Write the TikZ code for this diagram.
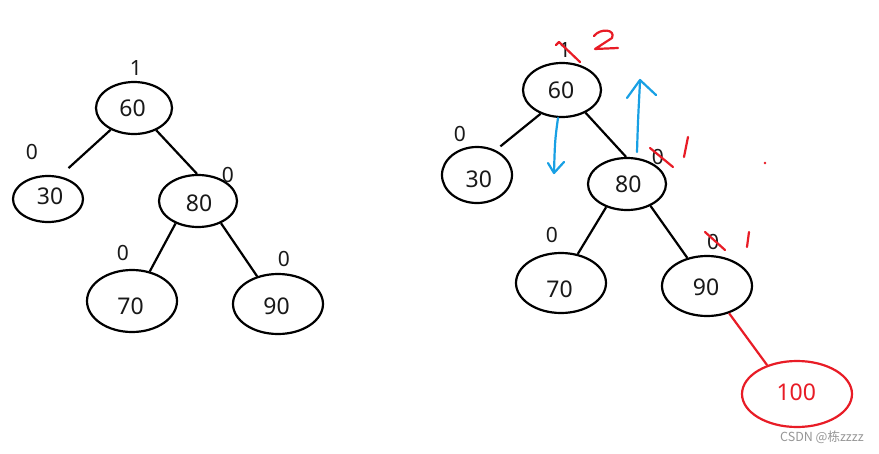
\documentclass[tikz,border=0pt]{standalone}
\usepackage{fontspec}
\setmainfont{Noto Sans}
\newfontfamily\cjkwm{Noto Sans CJK SC}
\usetikzlibrary{shapes.geometric,arrows.meta}
\definecolor{inkred}{RGB}{232,28,38}
\definecolor{inkblue}{RGB}{24,160,228}
\definecolor{wmgray}{RGB}{150,150,150}
% shift a node's text by (dx,dy) inside its shape: dx>0 right, dy>0 down
\newcommand{\txtshift}[3]{\hspace*{\dimexpr 2\dimexpr #1\relax\relax}\raisebox{-#2}[\height][\depth]{#3}}
\newcommand{\txtshiftl}[3]{\raisebox{-#2}[\height][\depth]{#3}\hspace*{\dimexpr 2\dimexpr #1\relax\relax}}
\tikzset{
  tnode/.style={draw=black, line width=2.2pt, ellipse, inner sep=0pt, text=black!90, font=\fontsize{23}{25}\selectfont},
  rnode/.style={tnode, draw=inkred, text=inkred},
  bal/.style={inner sep=0pt, text=black!90, font=\fontsize{21}{23}\selectfont},
  edge/.style={draw=black, line width=2.2pt},
  redge/.style={draw=inkred, line width=2.2pt},
  redmark/.style={draw=inkred, line width=2.2pt, line cap=round, line join=round},
  bluearrow/.style={draw=inkblue, line width=2.2pt, line cap=round}
}
\begin{document}
\begin{tikzpicture}[x=1pt,y=-1pt]
\fill[white] (0,0) rectangle (879,453);
\useasboundingbox (0,0) rectangle (879,453);

% ---------- left tree ----------
\node[tnode, minimum width=76pt, minimum height=52pt] (l60) at (134,108) {\txtshiftl{1.5pt}{0pt}{60}};
\node[tnode, minimum width=70pt, minimum height=46pt] (l30) at (48,199) {\txtshift{2pt}{-3pt}{30}};
\node[tnode, minimum width=78pt, minimum height=52pt] (l80) at (198,201) {\txtshift{1pt}{2pt}{80}};
\node[tnode, minimum width=90pt, minimum height=62pt] (l70) at (132,301) {\txtshiftl{1.5pt}{5.5pt}{70}};
\node[tnode, minimum width=90pt, minimum height=60pt] (l90) at (278,304) {\txtshiftl{1.5pt}{2.5pt}{90}};

\draw[edge, shorten >=12pt] (l60.-137) -- (l30.63);
\draw[edge] (l60.-45) -- (l80.92);
\draw[edge] (l80.-135) -- (l70.59);
\draw[edge] (l80.-44) -- (l90.127);

\node[bal] (bl60) at (136,68) {1};
\node[bal] (bl30) at (32,152) {0};
\node[bal] (bl80) at (228,175) {0};
\node[bal] (bl70) at (123,253) {0};
\node[bal] (bl90) at (284,259) {0};

% ---------- right tree ----------
\node[tnode, minimum width=78pt, minimum height=54pt] (r60) at (562,90) {\txtshiftl{1pt}{0pt}{60}};
\node[tnode, minimum width=70pt, minimum height=56pt] (r30) at (477,175) {\txtshift{1.75pt}{4pt}{30}};
\node[tnode, minimum width=78pt, minimum height=52pt] (r80) at (627,184) {\txtshift{1.25pt}{0.5pt}{80}};
\node[tnode, minimum width=90pt, minimum height=60pt] (r70) at (561,283) {\txtshiftl{1.5pt}{6pt}{70}};
\node[tnode, minimum width=90pt, minimum height=60pt] (r90) at (707,286) {\txtshiftl{1pt}{1pt}{90}};
\node[rnode, minimum width=110pt, minimum height=66pt] (r100) at (797,394) {\txtshiftl{0.75pt}{-1.5pt}{100}};

\draw[edge, shorten >=6pt] (r60.-132) -- (r30.53);
\draw[edge] (r60.-44) -- (r80.92);
\draw[edge] (r80.-132) -- (r70.60);
\draw[edge] (r80.-43) -- (r90.125);
\draw[redge] (r90.-51) -- (r100.136);

\node[bal] (br60) at (565,50) {1};
\node[bal] (br30) at (460,134) {0};
\node[bal] (br80) at (658,157) {0};
\node[bal] (br70) at (552,235) {0};
\node[bal] (br90) at (713,242) {0};

% red corrections
\draw[redmark] (556,45) -- (559,42) -- (580,62);
\draw[redmark] (594,36) .. controls (600,28) and (616,29) .. (612,38) -- (595,49) -- (618,48);
\draw[redmark] (650,148) -- (673,167);
\draw[redmark] (688,137) -- (684,157);
\draw[redmark] (705,232) -- (725,250);
\draw[redmark] (749,232) -- (747,247);
\fill[inkred] (765,163) circle (1.3pt);

% blue arrows
\draw[bluearrow] (558,118) .. controls (555,140) .. (554,172);
\draw[bluearrow, line join=round] (548,163) -- (554,173) -- (564,162);
\draw[bluearrow] (637,152) .. controls (638,120) .. (640,82);
\draw[bluearrow, line join=round] (627,98) -- (640,80) -- (656,95);

% watermark
\node[inner sep=0pt, text=wmgray, font=\cjkwm\fontsize{12.5}{14}\selectfont] (wm) at (822,437) {CSDN @栋zzzz};
\end{tikzpicture}
\end{document}
